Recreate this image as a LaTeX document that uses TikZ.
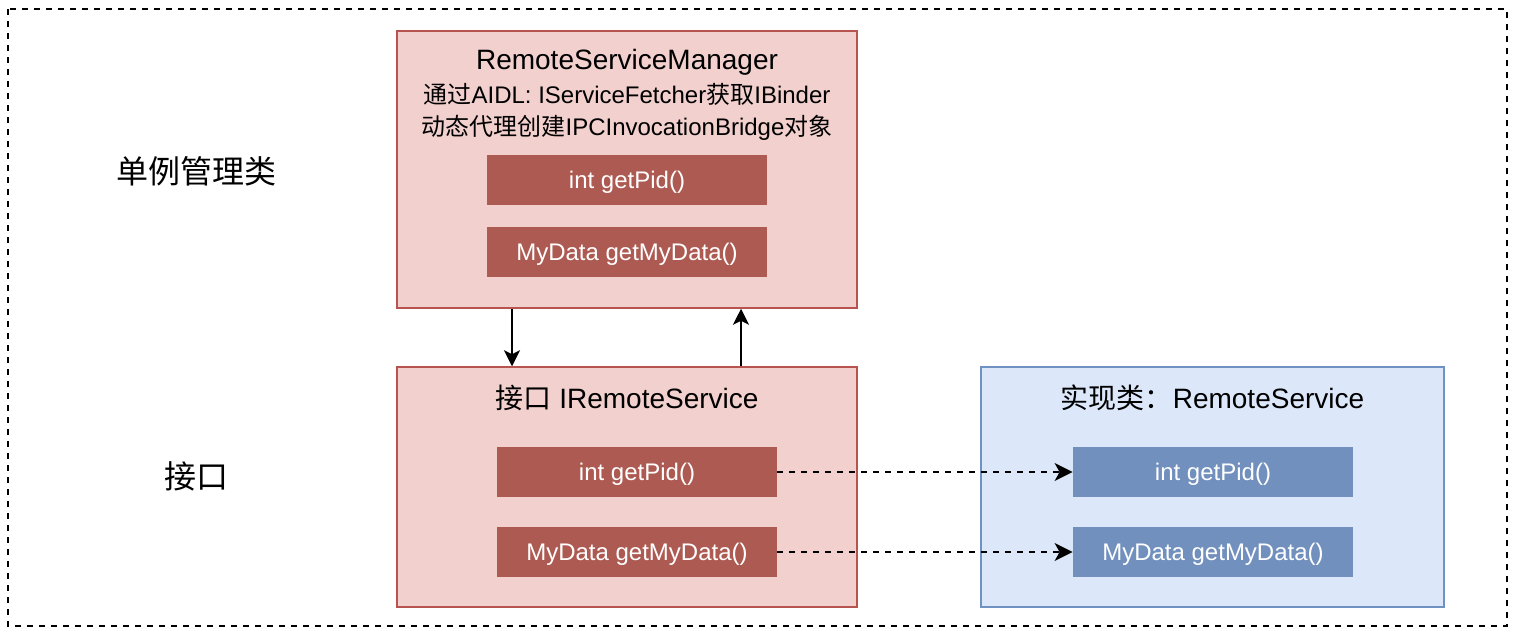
\documentclass[tikz,border=0pt]{standalone}
\usepackage{fontspec}
\setmainfont{Liberation Sans}
\newfontfamily\cjk{Noto Sans CJK SC}
\usetikzlibrary{arrows.meta}
\definecolor{redfill}{HTML}{F2D0CE}
\definecolor{redline}{HTML}{B85450}
\definecolor{redmeth}{HTML}{AD5B52}
\definecolor{bluefill}{HTML}{DCE8FA}
\definecolor{blueline}{HTML}{7092C2}
\definecolor{bluemeth}{HTML}{7190BD}

\begin{document}
\begin{tikzpicture}
	[x=0.5pt, y=-0.5pt,
	every node/.style={inner sep=0pt},
	redbox/.style={draw=redline,fill=redfill,line width=0.75pt,minimum width=230pt},
	bluebox/.style={draw=blueline,fill=bluefill,line width=0.75pt,minimum width=231.5pt,minimum height=120pt},
	redmethod/.style={fill=redmeth,text=white,minimum width=140pt,minimum height=25pt,text height=9pt,text depth=1pt,font=\fontsize{12}{14}\selectfont},
	bluemethod/.style={redmethod,fill=bluemeth},
	boxtitle/.style={font=\fontsize{14}{17}\selectfont},
	boxnote/.style={align=center,font=\fontsize{12}{16}\selectfont},
	sidelabel/.style={font=\fontsize{16}{19}\selectfont},
	arr/.style={-{Stealth[length=8pt,width=8pt,inset=2pt]},line width=0.8pt},
	callarr/.style={-{Stealth[length=9pt,width=9pt,inset=2.5pt]},dash pattern=on 3pt off 3pt,line width=0.9pt}]
	\useasboundingbox (0,0) rectangle (1516,634);
	\draw [dash pattern=on 3pt off 3pt,line width=0.7pt] (8,9) rectangle (1507,626);
	\node (single) [sidelabel] at (196,171) {\cjk 单例管理类};
	\node (port) [sidelabel] at (196,476) {\cjk 接口};
	\node (mgr) [redbox,minimum height=138.5pt] at (627,169.5) {};
	\node (mgrname) [boxtitle] at (627,62) {RemoteServiceManager};
	\node (mgrnote) [boxnote] at (627,112) {{\cjk 通过}AIDL: IServiceFetcher{\cjk 获取}IBinder\\{\cjk 动态代理创建}IPCInvocationBridge{\cjk 对象}};
	\node (mgrpid) [redmethod] at (627,180) {int getPid()};
	\node (mgrdata) [redmethod] at (627,252) {MyData getMyData()};
	\node (iface) [redbox,minimum height=120pt] at (627,487) {};
	\node (ifacename) [boxtitle] at (627,398) {{\cjk 接口} IRemoteService};
	\node (ifpid) [redmethod] at (637,472) {int getPid()};
	\node (ifdata) [redmethod] at (637,552) {MyData getMyData()};
	\node (impl) [bluebox] at (1212.5,487) {};
	\node (implname) [boxtitle] at (1212.5,398) {{\cjk 实现类：}RemoteService};
	\node (impid) [bluemethod] at (1213,472) {int getPid()};
	\node (imdata) [bluemethod] at (1213,552) {MyData getMyData()};
	\draw [arr] ([xshift=-57.5pt]mgr.south) -- ([xshift=-57.5pt]iface.north);
	\draw [arr] ([xshift=57pt]iface.north) -- ([xshift=57pt]mgr.south);
	\draw [callarr] (ifpid.east) -- (impid.west);
	\draw [callarr] (ifdata.east) -- (imdata.west);
\end{tikzpicture}
\end{document}
